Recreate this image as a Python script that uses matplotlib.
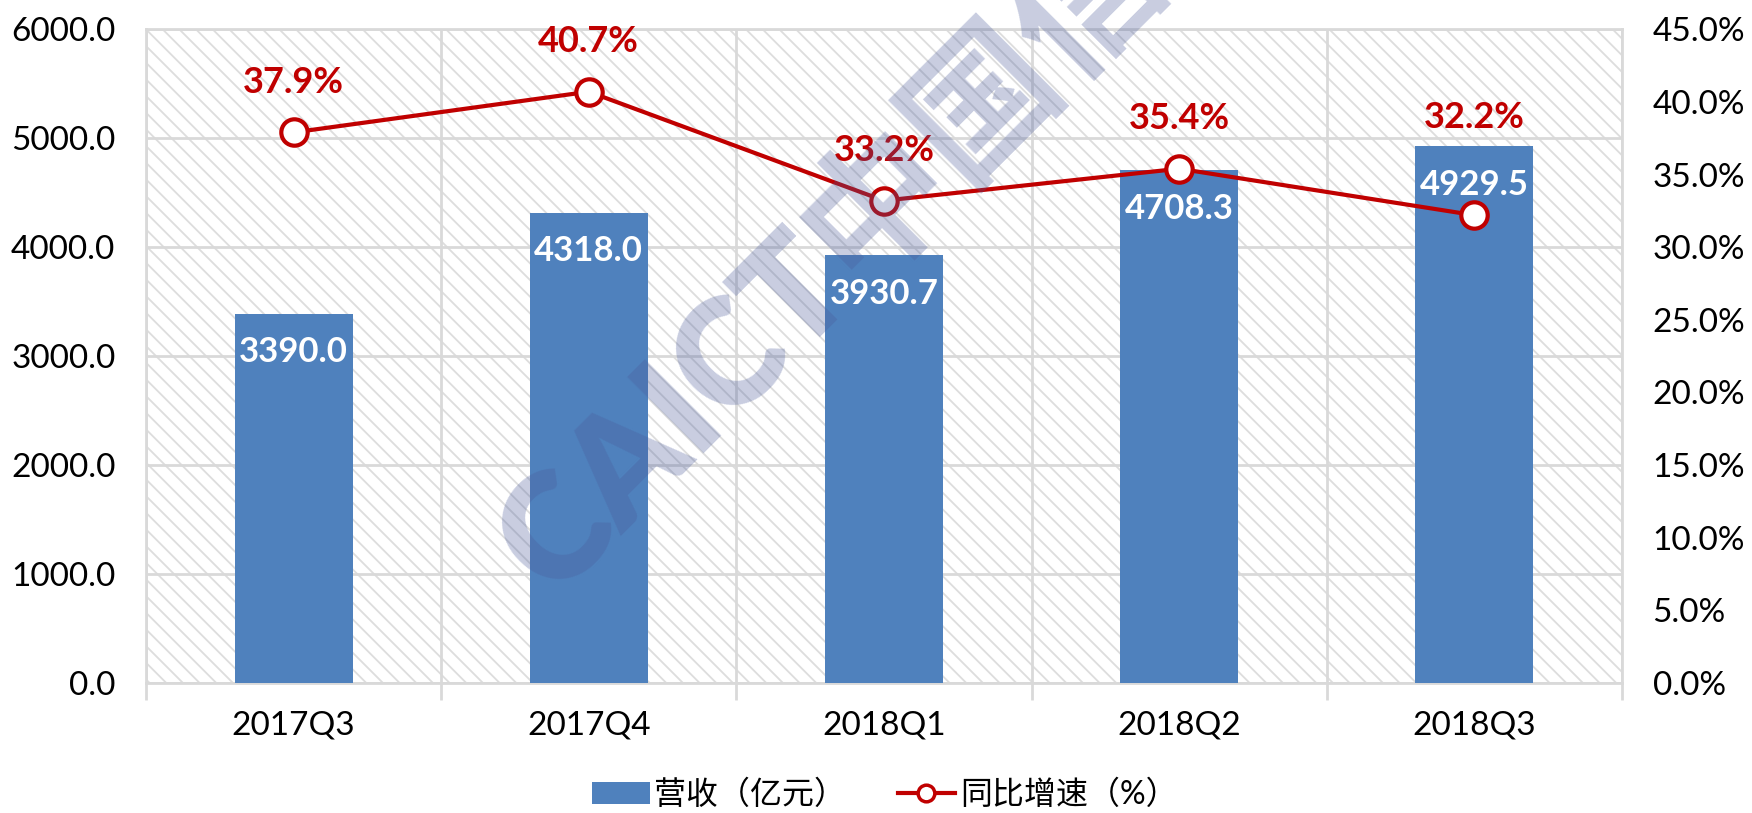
import matplotlib
matplotlib.use('Agg')
import matplotlib.pyplot as plt
from matplotlib.patches import Rectangle, Patch
from matplotlib.lines import Line2D

# 数据
quarters = ['2017Q3', '2017Q4', '2018Q1', '2018Q2', '2018Q3']
revenue = [3390.0, 4318.0, 3930.7, 4708.3, 4929.5]
growth = [37.9, 40.7, 33.2, 35.4, 32.2]

bar_color = '#4F81BD'
line_color = '#C00000'
grid_color = '#D9D9D9'

plt.rcParams['font.family'] = ['Lato', 'Noto Sans CJK SC', 'DejaVu Sans']
plt.rcParams['hatch.color'] = '#DDDDDD'
plt.rcParams['hatch.linewidth'] = 1.3

fig = plt.figure(figsize=(17.52, 8.13), dpi=100)
ax = fig.add_axes([0.0833, 0.160, 0.8425, 0.804])
ax2 = ax.twinx()

# 斜线背景
ax.add_patch(Rectangle((0, 0), 1, 1, transform=ax.transAxes, facecolor='white',
                       edgecolor='#DDDDDD', hatch='\\\\', lw=0, zorder=0))

x = list(range(len(quarters)))
ax.bar(x, revenue, width=0.4, color=bar_color, zorder=3)
ax.set_xlim(-0.5, len(quarters) - 0.5)
ax.set_ylim(0, 6000)
ax.set_yticks(range(0, 6001, 1000))
ax.set_yticklabels([f'{v:.1f}' for v in range(0, 6001, 1000)])
ax.set_xticks(x)
ax.set_xticklabels(quarters)
ax.set_xticks([i - 0.5 for i in range(len(quarters) + 1)], minor=True)
ax.tick_params(axis='x', which='major', length=0, pad=20, labelsize=24)
ax.tick_params(axis='x', which='minor', length=12, width=2, color=grid_color)
ax.tick_params(axis='y', length=0, pad=22, labelsize=24)
ax.grid(axis='y', color=grid_color, lw=2, zorder=1)
ax.grid(axis='x', which='minor', color=grid_color, lw=2, zorder=1)
for s in ax.spines.values():
    s.set_color(grid_color)
    s.set_linewidth(2)
for s in ax2.spines.values():
    s.set_visible(False)

for i, v in enumerate(revenue):
    ax.annotate(f'{v:.1f}', (i, v), xytext=(0, -28), textcoords='offset points',
                ha='center', va='center', color='white', fontsize=25,
                fontweight='bold', zorder=5)

ax2.plot(x, growth, color=line_color, lw=3, marker='o', markersize=19,
         markerfacecolor='white', markeredgecolor=line_color, markeredgewidth=3,
         zorder=4)
ax2.set_ylim(0, 45)
ax2.set_yticks(range(0, 46, 5))
ax2.set_yticklabels([f'{v:.1f}%' for v in range(0, 46, 5)])
ax2.tick_params(axis='y', length=0, pad=22, labelsize=24)
# 最后一个标签在原图中被手动上移
label_dy = [36, 36, 36, 36, 70]
for i, v in enumerate(growth):
    ax2.annotate(f'{v:.1f}%', (i, v), xytext=(0, label_dy[i]),
                 textcoords='offset points', ha='center', va='center',
                 color=line_color, fontsize=26, fontweight='bold')

# 水印
fig.text(0.316, 0.263, 'CAICT中国信通院', rotation=45, rotation_mode='anchor',
         fontsize=106, fontweight='heavy', color='#4A5A9A', alpha=0.3,
         ha='left', va='baseline', zorder=10)

handles = [Patch(facecolor=bar_color, edgecolor='none'),
           Line2D([], [], color=line_color, lw=3, marker='o', markersize=12,
                  markerfacecolor='white', markeredgecolor=line_color,
                  markeredgewidth=2.5)]
fig.legend(handles, ['营收（亿元）', '同比增速（%）'], loc='center',
           bbox_to_anchor=(0.505, 0.022), ncol=2, frameon=False, fontsize=23,
           handlelength=1.8, handletextpad=0.15, columnspacing=1.6)

fig.savefig('out.png', dpi=100)
plt.close(fig)
